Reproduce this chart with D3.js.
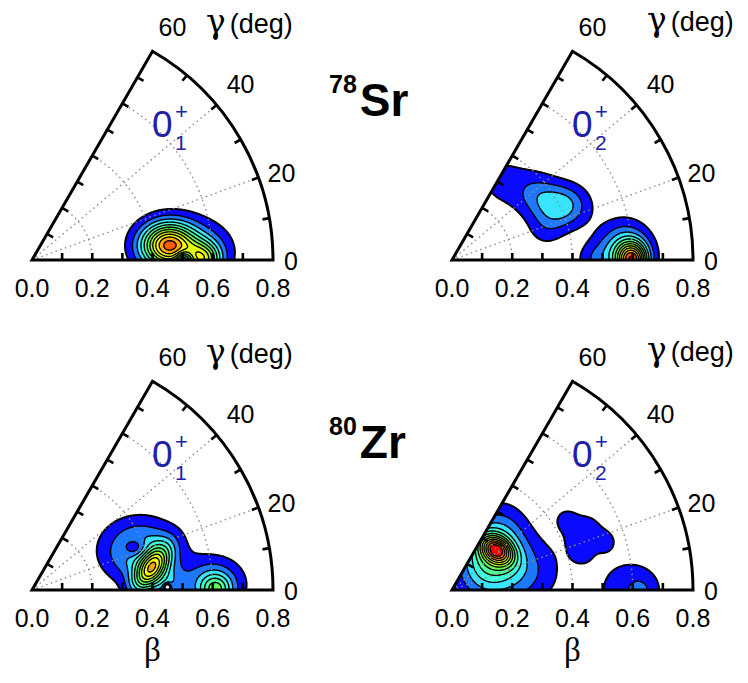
<!DOCTYPE html>
<html>
<head>
<meta charset="utf-8">
<script src="https://cdn.jsdelivr.net/npm/d3@7"></script>
<style>
  body { margin: 0; background: #fff; }
  svg { display: block; font-family: "Liberation Sans", Arial, sans-serif; }
</style>
</head>
<body>
<svg id="chart" width="748" height="683"></svg>
<script>
// axis ticks
const betaTicks = [0.0, 0.2, 0.4, 0.6, 0.8];
const betaMinor = [0.1, 0.2, 0.3, 0.4, 0.5, 0.6, 0.7];
const gammaTicks = [0, 20, 40, 60];
const gammaMinor = [10, 20, 30, 40, 50];
const betaGrid = [0.2, 0.4, 0.6];
const gammaGrid = [20, 40];

// contour levels and their fill colours
const levels = [0.07, 0.15, 0.23, 0.31, 0.39, 0.47, 0.55, 0.63, 0.71, 0.79, 0.87, 0.95];
const levelColors = ["#0a0aff", "#1e78ff", "#38e4ff", "#40ffd8", "#50ff98", "#60ff50",
                     "#a8ff20", "#e0ff10", "#ffff00", "#ffa800", "#ff5a00", "#ff0000"];

// nuclei and states
const masses = ["78", "80"];
const symbols = ["Sr", "Zr"];
const states = ["1", "2"];

// peaks: [beta, gamma(deg), height, width x, width y, tilt(deg)]
const sr78First = [
  [0.5116, 4.49, 0.25, 0.095, 0.065],
  [0.4528, 6.34, 0.70, 0.060, 0.050],
  [0.5700, 0.00, 0.48, 0.040, 0.040],
  [0.5050, 0.00, -0.30, 0.020, 0.020]
];
const sr78Second = [
  [0.4070, 26.25, 0.27, 0.060, 0.050],
  [0.3561, 38.16, 0.12, 0.050, 0.050],
  [0.3106, 56.82, 0.09, 0.070, 0.070],
  [0.3257, 17.88, 0.08, 0.045, 0.045],
  [0.5708, 3.01, 0.30, 0.060, 0.065],
  [0.4700, 0.00, 0.10, 0.040, 0.040],
  [0.5980, 0.00, 0.72, 0.035, 0.040]
];
const zr80First = [
  [0.3826, 19.86, 0.30, 0.085, 0.070],
  [0.3695, 22.26, -0.18, 0.028, 0.022],
  [0.4012, 10.05, 0.60, 0.060, 0.030, 55],
  [0.4504, 2.55, 0.15, 0.040, 0.040],
  [0.6003, 1.91, 0.24, 0.070, 0.060],
  [0.6100, 0.00, 0.30, 0.035, 0.035],
  [0.4491, 1.28, -0.30, 0.008, 0.008]
];
const zr80Second = [
  [0.1991, 41.94, 0.60, 0.040, 0.028, -35],
  [0.1838, 45.00, 0.35, 0.090, 0.065, 70],
  [0.2088, 16.70, 0.20, 0.100, 0.080],
  [0.4792, 23.35, 0.11, 0.055, 0.055],
  [0.4437, 32.00, 0.07, 0.025, 0.025],
  [0.5345, 17.42, 0.07, 0.025, 0.025],
  [0.4464, 15.64, 0.07, 0.025, 0.025],
  [0.5950, 0.00, 0.13, 0.080, 0.075],
  [0.6250, 0.00, 0.07, 0.025, 0.025]
];

const svg = d3.select("#chart");
const R = 241;
const r = d3.scaleLinear().domain([0, 0.8]).range([0, R]);
const rad = d => d * Math.PI / 180;
const blue = "#2020a8";

function field(peaks, x, y) {
  let v = 0;
  for (const [b, g, h, sx, sy, tilt = 0] of peaks) {
    const dx = x - b * Math.cos(rad(g)), dy = y - b * Math.sin(rad(g));
    const t = rad(tilt);
    const u = dx * Math.cos(t) + dy * Math.sin(t);
    const w = -dx * Math.sin(t) + dy * Math.cos(t);
    v += h * Math.exp(-0.5 * (u * u / (sx * sx) + w * w / (sy * sy)));
  }
  return v;
}

const panels = [
  {peaks: sr78First, col: 0, row: 0, state: 0},
  {peaks: sr78Second, col: 1, row: 0, state: 1},
  {peaks: zr80First, col: 0, row: 1, state: 0},
  {peaks: zr80Second, col: 1, row: 1, state: 1}
];
const ox = [32, 452], oy = [260, 590];

const wedge = d3.arc()({innerRadius: 0, outerRadius: R, startAngle: Math.PI / 6, endAngle: Math.PI / 2});

panels.forEach((p, k) => {
  const g = svg.append("g").attr("transform", `translate(${ox[p.col]},${oy[p.row]})`);

  g.append("clipPath").attr("id", "clip" + k)
    .append("path").attr("d", wedge);

  // sample the map on a grid
  const step = 0.0025, x0 = -0.02, y0 = -0.02;
  const nx = Math.round(0.86 / step) + 1, ny = Math.round(0.74 / step) + 1;
  const values = new Float64Array(nx * ny);
  for (let j = 0; j < ny; j++)
    for (let i = 0; i < nx; i++)
      values[j * nx + i] = field(p.peaks, x0 + i * step, y0 + j * step);

  const gx = d3.scaleLinear().domain([0.5, nx - 0.5]).range([r(x0), r(x0 + (nx - 1) * step)]);
  const gy = d3.scaleLinear().domain([0.5, ny - 0.5]).range([-r(y0), -r(y0 + (ny - 1) * step)]);
  const path = d3.geoPath(d3.geoTransform({
    point(x, y) { this.stream.point(gx(x), gy(y)); }
  }));

  const contours = d3.contours().size([nx, ny]).thresholds(levels)(values);

  const cg = g.append("g").attr("clip-path", `url(#clip${k})`);
  cg.selectAll("path")
    .data(contours)
    .enter()
    .append("path")
    .attr("d", path)
    .attr("fill", (d, i) => levelColors[i])
    .attr("stroke", "#000")
    .attr("stroke-width", (d, i) => i === 0 ? 2 : 1.4)
    .attr("stroke-linejoin", "round");

  // dotted grid
  const grid = g.append("g")
    .attr("fill", "none")
    .attr("stroke", "#8c8c8c")
    .attr("stroke-width", 1.4)
    .attr("stroke-dasharray", "1.5,3.5");
  gammaGrid.forEach(gm => {
    grid.append("line")
      .attr("x1", 0).attr("y1", 0)
      .attr("x2", R * Math.cos(rad(gm))).attr("y2", -R * Math.sin(rad(gm)));
  });
  betaGrid.forEach(b => {
    const pth = d3.path();
    pth.moveTo(r(b), 0);
    pth.arc(0, 0, r(b), 0, -Math.PI / 3, true);
    grid.append("path").attr("d", pth.toString());
  });

  // frame
  g.append("path").attr("d", wedge)
    .attr("fill", "none").attr("stroke", "#000")
    .attr("stroke-width", 3).attr("stroke-linejoin", "miter");

  // ticks
  const tl = 7;
  const ticks = g.append("g").attr("stroke", "#000").attr("stroke-width", 2.6);
  betaMinor.forEach(b => {
    ticks.append("line").attr("x1", r(b)).attr("y1", 0).attr("x2", r(b)).attr("y2", -tl);
    const px = r(b) * Math.cos(rad(60)), py = -r(b) * Math.sin(rad(60));
    ticks.append("line").attr("x1", px).attr("y1", py)
      .attr("x2", px + tl * Math.sin(rad(60))).attr("y2", py + tl * Math.cos(rad(60)));
  });
  gammaMinor.forEach(gm => {
    const c = Math.cos(rad(gm)), s = Math.sin(rad(gm));
    ticks.append("line").attr("x1", R * c).attr("y1", -R * s)
      .attr("x2", (R - tl) * c).attr("y2", -(R - tl) * s);
  });

  // beta labels
  g.selectAll(".bl")
    .data(betaTicks)
    .enter()
    .append("text")
    .attr("x", d => r(d))
    .attr("y", 37)
    .attr("text-anchor", "middle")
    .style("font-size", "25px")
    .text(d3.format(".1f"));

  // gamma labels
  const gOff = {0: [18, 1], 20: [23, -4], 40: [24, -21], 60: [20, -24]};
  g.selectAll(".gl")
    .data(gammaTicks)
    .enter()
    .append("text")
    .attr("x", d => R * Math.cos(rad(d)) + gOff[d][0])
    .attr("y", d => -R * Math.sin(rad(d)) + gOff[d][1])
    .attr("dy", "0.35em")
    .attr("text-anchor", "middle")
    .style("font-size", "25px")
    .text(d => d);

  // gamma axis title
  const gt = g.append("text")
    .attr("x", p.col === 0 ? 174 : 195)
    .attr("y", p.col === 0 ? -227 : -229);
  gt.append("tspan").style("font-family", "'DejaVu Serif', serif").style("font-size", "33px").text("γ");
  gt.append("tspan").attr("dx", 4).style("font-size", "27px").text("(deg)");

  // state label
  g.append("text").attr("x", 120).attr("y", -123).attr("fill", blue)
    .style("font-size", "37px").text("0");
  g.append("text").attr("x", 143).attr("y", -141).attr("fill", blue)
    .style("font-size", "22px").text("+");
  g.append("text").attr("x", 143).attr("y", -110).attr("fill", blue)
    .style("font-size", "21px").text(states[p.state]);

  // beta axis title on bottom row
  if (p.row === 1) {
    g.append("text").attr("x", r(0.4)).attr("y", 71)
      .attr("text-anchor", "middle")
      .style("font-family", "'Liberation Serif', serif")
      .style("font-size", "33px")
      .text("β");
  }
});

// nucleus titles
masses.forEach((m, i) => {
  const t = svg.append("text").attr("x", 329).attr("y", 116 + i * 342)
    .style("font-weight", "bold");
  t.append("tspan").attr("dy", -23).style("font-size", "25px").text(m);
  t.append("tspan").attr("dy", 23).attr("dx", 3).style("font-size", "46px").text(symbols[i]);
});
</script>
</body>
</html>
